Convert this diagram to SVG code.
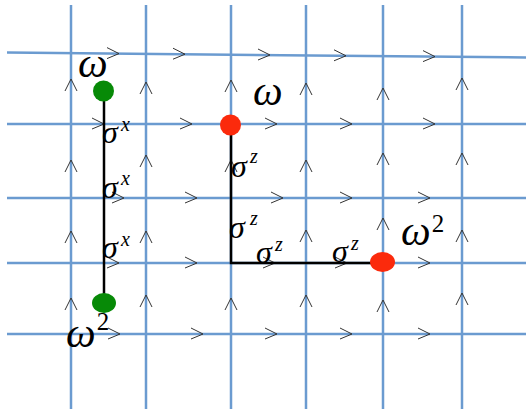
<svg xmlns="http://www.w3.org/2000/svg" width="526" height="409" viewBox="0 0 526 409">
<defs>
<style>
.grid{stroke:#6b9bd0;stroke-width:2.5;fill:none}
.chev{stroke:#333;stroke-width:1;fill:none}
.edge{stroke:#000;stroke-width:2.5;fill:none}
.m{font-family:"Liberation Serif","DejaVu Serif",serif;font-style:italic;fill:#000}
.w{font-size:42px}
.s{font-size:32px}
.sup{font-size:20px}
.two{font-size:25px;font-style:normal}
</style>
<path id="r" d="M-12,-6 L0,0 L-12,5"/>
<path id="u" d="M-6,12 L0,0 L6,12"/>
</defs>
<rect width="526" height="409" fill="#fff"/>
<g id="grid" class="grid">
<line x1="7" y1="52.5" x2="526" y2="57.5"/>
<line x1="7" y1="124" x2="526" y2="124"/>
<line x1="7" y1="198" x2="526" y2="198"/>
<line x1="7" y1="263" x2="526" y2="263"/>
<line x1="7" y1="334" x2="526" y2="334"/>
<line x1="71" y1="5" x2="71" y2="409"/>
<line x1="146" y1="5" x2="146" y2="409"/>
<line x1="231" y1="5" x2="231" y2="409"/>
<line x1="306" y1="5" x2="306" y2="409"/>
<line x1="383" y1="5" x2="383" y2="409"/>
<line x1="462" y1="5" x2="462" y2="409"/>
</g>
<g id="chevrons" class="chev">
<use href="#r" x="119" y="53.6"/><use href="#r" x="185" y="54.2"/><use href="#r" x="270" y="55"/><use href="#r" x="346" y="55.8"/><use href="#r" x="435" y="56.6"/>
<use href="#r" x="104" y="124"/><use href="#r" x="192" y="124"/><use href="#r" x="277" y="124"/><use href="#r" x="352" y="124"/><use href="#r" x="435" y="124"/>
<use href="#r" x="124" y="198"/><use href="#r" x="197" y="198"/><use href="#r" x="283" y="198"/><use href="#r" x="352" y="198"/><use href="#r" x="430" y="198"/>
<use href="#r" x="119" y="263"/><use href="#r" x="197" y="263"/><use href="#r" x="275" y="263"/><use href="#r" x="347" y="263"/><use href="#r" x="430" y="263"/>
<use href="#r" x="120" y="334"/><use href="#r" x="203" y="334"/><use href="#r" x="277" y="334"/><use href="#r" x="352" y="334"/><use href="#r" x="430" y="334"/>
<use href="#u" x="71" y="79"/><use href="#u" x="71" y="160"/><use href="#u" x="71" y="231"/><use href="#u" x="71" y="298"/>
<use href="#u" x="146" y="82"/><use href="#u" x="146" y="155"/><use href="#u" x="146" y="231"/><use href="#u" x="146" y="295"/>
<use href="#u" x="231" y="80"/><use href="#u" x="231" y="160"/><use href="#u" x="231" y="298"/>
<use href="#u" x="306" y="83"/><use href="#u" x="306" y="160"/><use href="#u" x="306" y="230"/><use href="#u" x="306" y="295"/>
<use href="#u" x="383" y="88"/><use href="#u" x="383" y="153"/><use href="#u" x="383" y="218"/><use href="#u" x="383" y="300"/>
<use href="#u" x="462" y="78"/><use href="#u" x="462" y="153"/><use href="#u" x="462" y="230"/><use href="#u" x="462" y="293"/>
</g>
<g id="connectors" class="edge">
<line x1="104" y1="91" x2="104" y2="303"/>
<polyline points="231,125 231,263 383,263"/>
</g>
<g id="node-green-top"><circle cx="103.5" cy="91" r="10.5" fill="#078a07"/></g>
<g id="node-green-bottom"><ellipse cx="104" cy="303" rx="12" ry="10" fill="#078a07"/></g>
<g id="node-red-top"><circle cx="230.5" cy="125" r="10.5" fill="#fb2a0c"/></g>
<g id="node-red-right"><ellipse cx="382.5" cy="262" rx="12.5" ry="10" fill="#fb2a0c"/></g>
<g id="labels" class="m">
<text class="w" x="78" y="77">ω</text>
<text class="w" x="253" y="105">ω</text>
<text class="w" x="66" y="347">ω<tspan class="two" dx="1" dy="-17">2</tspan></text>
<text class="w" x="401" y="245">ω<tspan class="two" dx="1" dy="-13">2</tspan></text>
<text class="s" x="102" y="143">σ</text><text class="sup" x="121" y="131">x</text>
<text class="s" x="102" y="198">σ</text><text class="sup" x="121" y="185">x</text>
<text class="s" x="102" y="258">σ</text><text class="sup" x="121" y="246">x</text>
<text class="s" x="231" y="177">σ</text><text class="sup" x="250" y="163">z</text>
<text class="s" x="229" y="238">σ</text><text class="sup" x="250" y="225">z</text>
<text class="s" x="256" y="263">σ</text><text class="sup" x="275" y="251">z</text>
<text class="s" x="332" y="262">σ</text><text class="sup" x="351" y="250">z</text>
</g>
</svg>
